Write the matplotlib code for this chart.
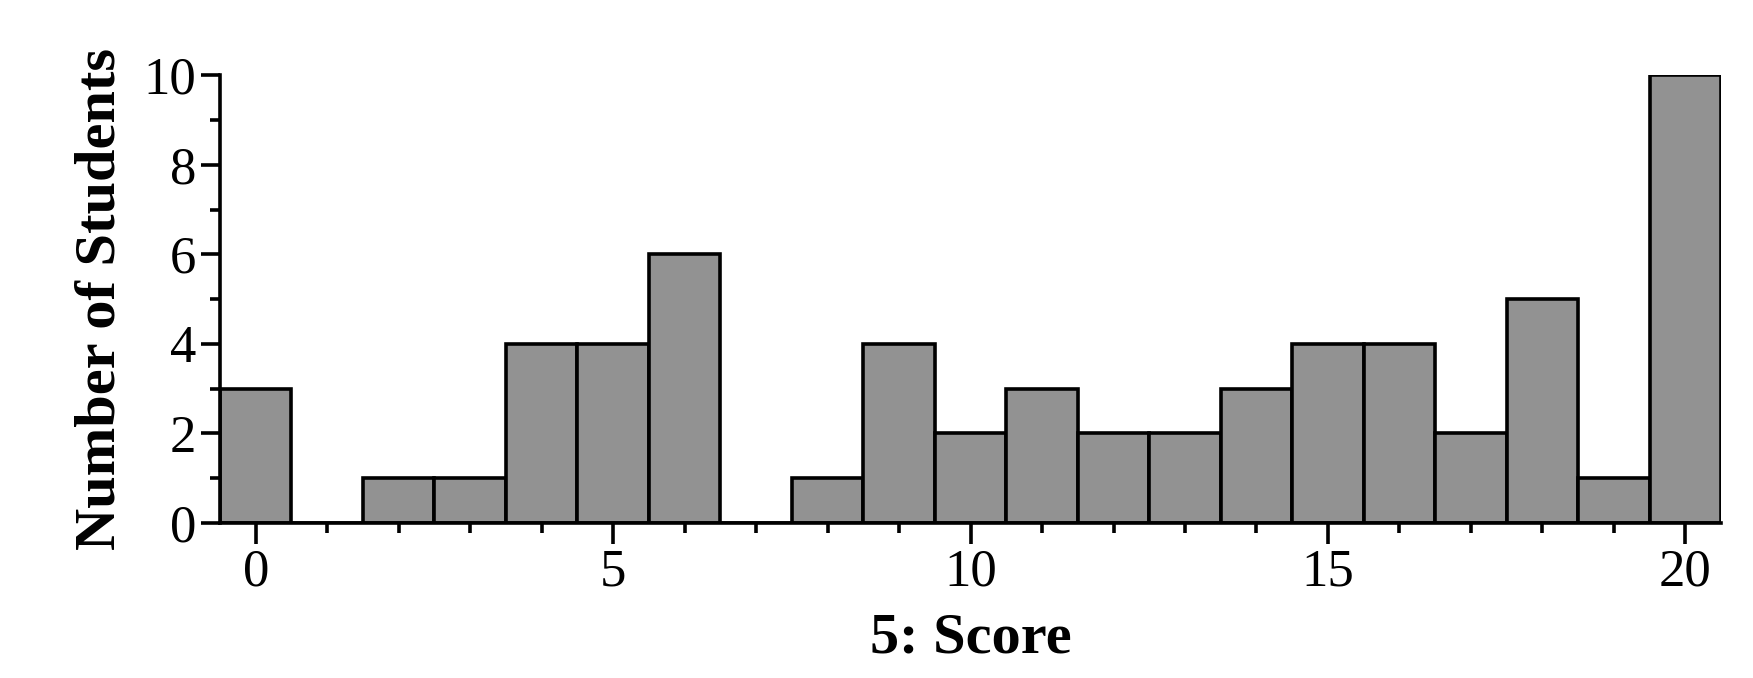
import matplotlib
matplotlib.use("Agg")
import matplotlib.pyplot as plt
from matplotlib.ticker import MultipleLocator

scores = list(range(21))
counts = [3, 0, 1, 1, 4, 4, 6, 0, 1, 4, 2, 3, 2, 2, 3, 4, 4, 2, 5, 1, 10]
xticks = [0, 5, 10, 15, 20]
yticks = [0, 2, 4, 6, 8, 10]

plt.rcParams['font.family'] = ['Liberation Serif', 'DejaVu Serif']

fig = plt.figure(figsize=(17.53, 6.78), dpi=100)
ax = fig.add_axes([0.1255, 0.2286, 0.8563, 0.6604])

ax.bar(scores, counts, width=1.0, color='#929292', edgecolor='black', linewidth=2.6, zorder=2)

ax.set_xlim(-0.5, 20.5)
ax.set_ylim(0, 10)
ax.set_xticks(xticks)
ax.set_yticks(yticks)
ax.xaxis.set_minor_locator(MultipleLocator(1))
ax.yaxis.set_minor_locator(MultipleLocator(1))

for s in ['top', 'right']:
    ax.spines[s].set_visible(False)
for s in ['left', 'bottom']:
    ax.spines[s].set_linewidth(2.6)
    ax.spines[s].set_zorder(3)

ax.tick_params(which='major', direction='out', length=15, width=2.6, labelsize=38, pad=3)
ax.tick_params(which='minor', direction='out', length=7, width=2.6)
ax.tick_params(axis='y', which='major', length=14)
ax.tick_params(axis='y', which='minor', length=7)

ax.set_xlabel('5: Score', fontsize=42, fontweight='bold', labelpad=12)
ax.set_ylabel('Number of Students', fontsize=42, fontweight='bold', labelpad=12)

fig.savefig('out.png', dpi=100)
